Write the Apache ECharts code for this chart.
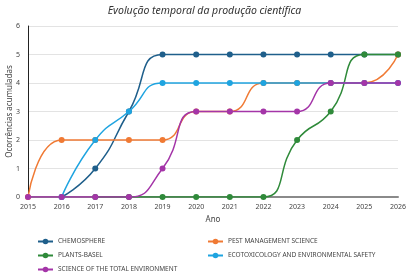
<!DOCTYPE html>
<html>
<head>
<meta charset="utf-8">
<script src="https://cdn.jsdelivr.net/npm/echarts@6/dist/echarts.min.js"></script>
<style>
  html, body { margin: 0; padding: 0; background: #fff; }
  #chart { width: 409px; height: 278px; }
</style>
</head>
<body>
<div id="chart"></div>
<script>
var years = ['2015', '2016', '2017', '2018', '2019', '2020', '2021', '2022', '2023', '2024', '2025', '2026'];
var chemosphere = [null, 0, 1, 3, 5, 5, 5, 5, 5, 5, 5, 5];
var pestManagement = [0, 2, 2, 2, 2, 3, 3, 4, 4, 4, 4, 5];
var plantsBasel = [null, null, 0, 0, 0, 0, 0, 0, 2, 3, 5, 5];
var ecotoxicology = [null, 0, 2, 3, 4, 4, 4, 4, 4, 4, 4, 4];
var scienceTotal = [0, 0, 0, 0, 1, 3, 3, 3, 3, 4, 4, 4];
var yTicks = [0, 1, 2, 3, 4, 5, 6];

var chartDom = document.getElementById('chart');
var myChart = echarts.init(chartDom);
var font = 'Noto Sans';
var option;

function line(name, data, color, z) {
  return {
    name: name,
    type: 'line',
    data: data,
    smooth: 0.55,
    symbol: 'circle',
    symbolSize: 6,
    z: z,
    lineStyle: { color: color, width: 1.5 },
    itemStyle: { color: color }
  };
}

function legendBlock(left, names) {
  return {
    orient: 'vertical',
    left: left,
    top: 238,
    padding: 0,
    height: 60,
    itemGap: 7,
    itemWidth: 15,
    itemHeight: 7,
    textStyle: { fontSize: 6.5, color: '#444' },
    data: names
  };
}

option = {
  animation: false,
  textStyle: { fontFamily: font },
  title: {
    text: 'Evolução temporal da produção científica',
    left: 'center',
    top: 1,
    textStyle: { fontSize: 10.5, fontStyle: 'italic', fontWeight: 'normal', color: '#333' }
  },
  grid: { left: 28, right: 11, top: 26, bottom: 81, outerBoundsMode: 'none', containLabel: false },
  xAxis: {
    type: 'category',
    data: years,
    boundaryGap: false,
    name: 'Ano',
    nameLocation: 'middle',
    nameGap: 19,
    nameTextStyle: { fontSize: 8, color: '#444' },
    axisLine: { lineStyle: { color: '#8a8a8a', width: 2 } },
    axisTick: { show: false },
    axisLabel: { fontSize: 7, color: '#444', margin: 6 },
    splitLine: { show: false }
  },
  yAxis: {
    type: 'value',
    min: yTicks[0],
    max: yTicks[yTicks.length - 1],
    interval: 1,
    name: 'Ocorrências acumuladas',
    nameLocation: 'middle',
    nameGap: 14,
    nameMoveOverlap: false,
    nameTextStyle: { fontSize: 8, color: '#444' },
    axisLine: { show: true, lineStyle: { color: '#222', width: 1 } },
    axisTick: { show: false },
    axisLabel: { fontSize: 7, color: '#444', margin: 8 },
    splitLine: { lineStyle: { color: '#e3e3e3', width: 1 } }
  },
  legend: [
    legendBlock(37, ['CHEMOSPHERE', 'PLANTS-BASEL', 'SCIENCE OF THE TOTAL ENVIRONMENT']),
    legendBlock(207, ['PEST MANAGEMENT SCIENCE', 'ECOTOXICOLOGY AND ENVIRONMENTAL SAFETY'])
  ],
  series: [
    line('CHEMOSPHERE', chemosphere, '#1f5f8b', 2),
    line('PEST MANAGEMENT SCIENCE', pestManagement, '#f07a34', 3),
    line('PLANTS-BASEL', plantsBasel, '#2f8a3a', 4),
    line('ECOTOXICOLOGY AND ENVIRONMENTAL SAFETY', ecotoxicology, '#1fa4e0', 5),
    line('SCIENCE OF THE TOTAL ENVIRONMENT', scienceTotal, '#a435a8', 6)
  ]
};

option && myChart.setOption(option);
</script>
</body>
</html>
